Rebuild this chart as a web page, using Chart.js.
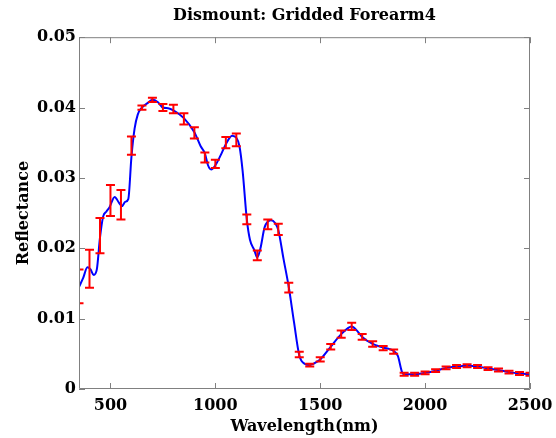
<!DOCTYPE html>
<html>
<head>
  <title>Dismount: Gridded Forearm4</title>
  <script src="https://cdn.jsdelivr.net/npm/chart.js@4.4.0/dist/chart.umd.min.js"></script>
  <style>
    body {
      margin: 0;
      padding: 0;
      background-color: #fff;
    }
  </style>
</head>
<body>
  <canvas id="spectrumChart" width="556" height="438"></canvas>

  <script>
    // spectrum curve (wavelength in nm, reflectance)
    const lineWl = [350, 370, 390, 405, 420, 435, 450, 465, 480, 495, 520, 540, 555, 570, 585, 600, 615, 630, 650, 680,
      700, 725, 750, 775, 800, 850, 900, 930, 950, 965, 980, 1000, 1025, 1050, 1080, 1100, 1115, 1130, 1150, 1165,
      1185, 1200, 1215, 1235, 1265, 1285, 1300, 1325, 1350, 1375, 1400, 1425, 1450, 1475, 1500, 1550, 1600, 1650, 1675, 1700,
      1750, 1800, 1850, 1870, 1890, 1900, 1950, 2000, 2050, 2100, 2150, 2200, 2250, 2300, 2350, 2400, 2450, 2500];
    const lineVal = [0.0145, 0.0158, 0.0173, 0.0170, 0.0162, 0.0170, 0.0215, 0.0245, 0.0252, 0.0258, 0.0273, 0.0265, 0.0260, 0.0266, 0.0270, 0.0330, 0.0370, 0.0390, 0.0400, 0.0407,
      0.0411, 0.0408, 0.0400, 0.0399, 0.0396, 0.0385, 0.0365, 0.0345, 0.0335, 0.0318, 0.0312, 0.0318, 0.0332, 0.0348, 0.0360, 0.0357, 0.0345, 0.0310, 0.0241, 0.0212,
      0.0198, 0.0187, 0.0200, 0.0230, 0.0240, 0.0236, 0.0226, 0.0185, 0.0145, 0.0095, 0.0048, 0.0036, 0.0034, 0.0037, 0.0042, 0.0060, 0.0078, 0.0089, 0.0083, 0.0074,
      0.0064, 0.0059, 0.0054, 0.0047, 0.0024, 0.0021, 0.0021, 0.0023, 0.0026, 0.0030, 0.0032, 0.0033, 0.0032, 0.0029, 0.0027, 0.0024, 0.0022, 0.0021];

    // error bars every 50 nm: mean and half-width
    const errWl = [350, 400, 450, 500, 550, 600, 650, 700, 750, 800, 850, 900, 950, 1000, 1050, 1100, 1150, 1200, 1250, 1300,
      1350, 1400, 1450, 1500, 1550, 1600, 1650, 1700, 1750, 1800, 1850, 1900, 1950, 2000, 2050, 2100, 2150, 2200, 2250, 2300,
      2350, 2400, 2450, 2500];
    const errMean = [0.0146, 0.0171, 0.0218, 0.0268, 0.0262, 0.0346, 0.0400, 0.0411, 0.0400, 0.0398, 0.0384, 0.0364, 0.0329, 0.0320, 0.0350, 0.0354, 0.0241, 0.0190, 0.0234, 0.0227,
      0.0144, 0.0049, 0.0034, 0.0042, 0.0060, 0.0078, 0.0089, 0.0074, 0.0064, 0.0058, 0.0053, 0.0021, 0.0021, 0.0023, 0.0026, 0.0030, 0.0032, 0.0033, 0.0032, 0.0029,
      0.0027, 0.0024, 0.0022, 0.0021];
    const errHalf = [0.0024, 0.0027, 0.0025, 0.0022, 0.0021, 0.0013, 0.0003, 0.0003, 0.0005, 0.0006, 0.0008, 0.0008, 0.0007, 0.0006, 0.0008, 0.0009, 0.0007, 0.0007, 0.0007, 0.0008,
      0.0007, 0.0004, 0.0002, 0.0003, 0.0004, 0.0005, 0.0005, 0.0004, 0.0004, 0.0003, 0.0003, 0.0002, 0.0002, 0.0002, 0.0002, 0.0002, 0.0002, 0.0002, 0.0002, 0.0002,
      0.0002, 0.0002, 0.0002, 0.0002];

    const xTicks = [500, 1000, 1500, 2000, 2500];
    const yTicks = [0, 0.01, 0.02, 0.03, 0.04, 0.05];
    const yTickLabels = ['0', '0.01', '0.02', '0.03', '0.04', '0.05'];

    const axisFont = { family: 'DejaVu Serif', size: 16, weight: 'bold' };

    // red error bars with caps, drawn through the chart scales
    const errorBars = {
      id: 'errorBars',
      afterDatasetsDraw(chart) {
        const { ctx, chartArea, scales } = chart;
        ctx.save();
        ctx.beginPath();
        ctx.rect(chartArea.left, chartArea.top, chartArea.right - chartArea.left, chartArea.bottom - chartArea.top);
        ctx.clip();
        ctx.strokeStyle = '#ff0000';
        ctx.lineWidth = 2;
        errWl.forEach((wl, i) => {
          const x = scales.x.getPixelForValue(wl);
          const yHi = scales.y.getPixelForValue(errMean[i] + errHalf[i]);
          const yLo = scales.y.getPixelForValue(errMean[i] - errHalf[i]);
          ctx.beginPath();
          ctx.moveTo(x, yHi);
          ctx.lineTo(x, yLo);
          ctx.moveTo(x - 4.5, yHi);
          ctx.lineTo(x + 4.5, yHi);
          ctx.moveTo(x - 4.5, yLo);
          ctx.lineTo(x + 4.5, yLo);
          ctx.stroke();
        });
        ctx.restore();
      }
    };

    // matlab style box with inward ticks
    const axesBox = {
      id: 'axesBox',
      afterDraw(chart) {
        const { ctx, chartArea, scales } = chart;
        const { left, right, top, bottom } = chartArea;
        ctx.save();
        ctx.strokeStyle = '#808080';
        ctx.lineWidth = 1;
        ctx.beginPath();
        ctx.rect(left + 0.5, top + 0.5, right - left - 1, bottom - top - 1);
        scales.x.ticks.forEach(t => {
          const x = Math.round(scales.x.getPixelForValue(t.value)) + 0.5;
          ctx.moveTo(x, bottom);
          ctx.lineTo(x, bottom - 6);
          ctx.moveTo(x, top);
          ctx.lineTo(x, top + 6);
        });
        scales.y.ticks.forEach(t => {
          const y = Math.round(scales.y.getPixelForValue(t.value)) + 0.5;
          ctx.moveTo(left, y);
          ctx.lineTo(left + 6, y);
          ctx.moveTo(right, y);
          ctx.lineTo(right - 6, y);
        });
        ctx.stroke();
        ctx.restore();
      }
    };

    const ctx = document.getElementById('spectrumChart').getContext('2d');
    const spectrumChart = new Chart(ctx, {
      type: 'line',
      data: {
        datasets: [{
          label: 'Reflectance',
          data: lineWl.map((wl, i) => ({ x: wl, y: lineVal[i] })),
          borderColor: '#0000ff',
          borderWidth: 2,
          pointRadius: 0,
          fill: false,
          cubicInterpolationMode: 'monotone'
        }]
      },
      options: {
        responsive: false,
        animation: false,
        layout: {
          padding: { left: 0, right: 26, top: 0, bottom: 0 }
        },
        plugins: {
          legend: { display: false },
          tooltip: { enabled: false },
          title: {
            display: true,
            text: 'Dismount: Gridded Forearm4',
            fullSize: false,
            color: '#000',
            font: { family: 'DejaVu Serif', size: 16, weight: 'bold' },
            padding: { top: 6, bottom: 12 }
          }
        },
        scales: {
          x: {
            type: 'linear',
            min: 350,
            max: 2500,
            grid: { display: false, drawTicks: false },
            border: { display: false },
            afterBuildTicks: s => { s.ticks = xTicks.map(v => ({ value: v })); },
            afterFit: s => { s.height = 49; s.paddingLeft = 0; s.paddingRight = 0; },
            ticks: {
              color: '#000',
              font: axisFont,
              padding: 7,
              maxRotation: 0,
              callback: v => String(v)
            },
            title: {
              display: true,
              text: 'Wavelength(nm)',
              color: '#000',
              font: { family: 'DejaVu Serif', size: 16, weight: 'bold' },
              padding: { top: 0, bottom: 2 }
            }
          },
          y: {
            min: 0,
            max: 0.05,
            grid: { display: false, drawTicks: false },
            border: { display: false },
            afterBuildTicks: s => { s.ticks = yTicks.map(v => ({ value: v })); },
            afterFit: s => { s.width = 79; },
            ticks: {
              color: '#000',
              font: axisFont,
              padding: 3,
              callback: (v, i) => yTickLabels[i]
            },
            title: {
              display: true,
              text: 'Reflectance',
              color: '#000',
              font: { family: 'DejaVu Serif', size: 16, weight: 'bold' },
              padding: { top: 14, bottom: 0 }
            }
          }
        }
      },
      plugins: [errorBars, axesBox]
    });
  </script>
</body>
</html>
